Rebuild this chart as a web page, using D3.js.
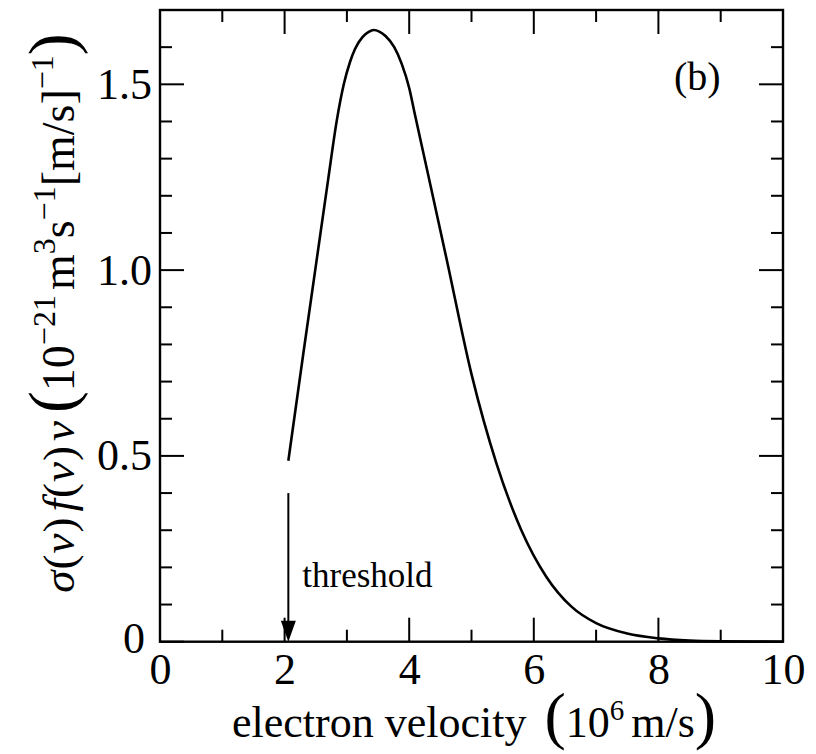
<!DOCTYPE html>
<html>
<head>
<meta charset="utf-8">
<script src="https://cdn.jsdelivr.net/npm/d3@7"></script>
<style>
  html, body { margin: 0; padding: 0; background: #fff; }
  svg { display: block; }
  text { font-family: "Liberation Serif", "Times New Roman", serif; fill: #000; }
</style>
</head>
<body>
<svg id="chart" width="816" height="754"></svg>
<script>
// electron velocity (10^6 m/s)
const velocity = [2.06, 2.3, 2.5, 2.7, 2.84, 2.95, 3.05, 3.13, 3.25, 3.35, 3.43, 3.52, 3.62, 3.76, 3.88, 4.0, 4.09, 4.3, 4.6, 5.0, 5.4, 5.8, 6.2, 6.6, 7.0, 7.5, 8.0, 8.5, 9.0, 10.0];
// sigma(v) f(v) v  (10^-21 m^3 s^-1 [m/s]^-1)
const rate = [0.487, 0.775, 1.01, 1.245, 1.405, 1.50, 1.56, 1.595, 1.627, 1.641, 1.646, 1.642, 1.63, 1.60, 1.555, 1.49, 1.42, 1.26, 1.03, 0.72, 0.48, 0.30, 0.175, 0.095, 0.05, 0.022, 0.009, 0.003, 0.001, 0.0];

const xMajorTicks = [0, 2, 4, 6, 8, 10];
const xMinorTicks = [1, 3, 5, 7, 9];
const yMajorTicks = [0, 0.5, 1.0, 1.5];
const yMinorTicks = [0.1, 0.2, 0.3, 0.4, 0.6, 0.7, 0.8, 0.9, 1.1, 1.2, 1.3, 1.4, 1.6];
const yTickLabels = ["0", "0.5", "1.0", "1.5"];

const thresholdVelocity = 2.06;
const thresholdArrowTop = 0.40;

const svg = d3.select("#chart");
const plotLeft = 160, plotRight = 783, plotTop = 10, plotBottom = 641.7;

const x = d3.scaleLinear().domain([0, 10]).range([plotLeft, plotRight]);
const y = d3.scaleLinear().domain([0, 1.7]).range([plotBottom, plotTop]);

const MAJOR = 24, MINOR = 12;
const tickFont = 44;

function styleAxis(g) {
  g.select(".domain").remove();
  g.selectAll(".tick line").remove();
  g.selectAll(".tick text").attr("font-size", tickFont).attr("fill", "#000")
    .attr("font-family", "Liberation Serif, serif");
}

// tick labels
svg.append("g").attr("transform", `translate(0,${plotBottom})`)
  .call(d3.axisBottom(x).tickValues(xMajorTicks).tickFormat(d3.format("d"))
    .tickSize(0).tickPadding(11))
  .call(styleAxis);

const yLeft = svg.append("g").attr("transform", `translate(${plotLeft},0)`)
  .call(d3.axisLeft(y).tickValues(yMajorTicks)
    .tickFormat((d, i) => yTickLabels[i])
    .tickSize(0).tickPadding(8))
  .call(styleAxis);
// the zero label sits just left of the corner
yLeft.selectAll(".tick text").filter(d => d === 0).attr("x", -15).attr("y", -3);

// inward tick marks on all four sides of the frame
const tickG = svg.append("g").attr("stroke", "#000").attr("stroke-width", 2);
const xTicks = xMajorTicks.map(v => [v, MAJOR]).concat(xMinorTicks.map(v => [v, MINOR]));
const yTicks = yMajorTicks.map(v => [v, MAJOR]).concat(yMinorTicks.map(v => [v, MINOR]));

tickG.selectAll("line.xb").data(xTicks).join("line").attr("class", "xb")
  .attr("x1", d => x(d[0])).attr("x2", d => x(d[0]))
  .attr("y1", plotBottom).attr("y2", d => plotBottom - d[1]);
tickG.selectAll("line.xt").data(xTicks).join("line").attr("class", "xt")
  .attr("x1", d => x(d[0])).attr("x2", d => x(d[0]))
  .attr("y1", plotTop).attr("y2", d => plotTop + d[1]);
tickG.selectAll("line.yl").data(yTicks).join("line").attr("class", "yl")
  .attr("y1", d => y(d[0])).attr("y2", d => y(d[0]))
  .attr("x1", plotLeft).attr("x2", d => plotLeft + d[1]);
tickG.selectAll("line.yr").data(yTicks).join("line").attr("class", "yr")
  .attr("y1", d => y(d[0])).attr("y2", d => y(d[0]))
  .attr("x1", plotRight).attr("x2", d => plotRight - d[1]);

// frame
svg.append("rect")
  .attr("x", plotLeft).attr("y", plotTop)
  .attr("width", plotRight - plotLeft).attr("height", plotBottom - plotTop)
  .attr("fill", "none").attr("stroke", "#000").attr("stroke-width", 2.4);

// rate curve
const points = velocity.map((v, i) => [v, rate[i]]);
svg.append("path")
  .datum(points)
  .attr("fill", "none")
  .attr("stroke", "#000")
  .attr("stroke-width", 2.6)
  .attr("stroke-linejoin", "round")
  .attr("d", d3.line().x(d => x(d[0])).y(d => y(d[1])).curve(d3.curveMonotoneX));

// threshold arrow
const ax = x(thresholdVelocity);
svg.append("line")
  .attr("x1", ax).attr("x2", ax)
  .attr("y1", y(thresholdArrowTop)).attr("y2", y(0) - 18)
  .attr("stroke", "#000").attr("stroke-width", 2);
svg.append("path")
  .attr("d", `M${ax - 7.5},${y(0) - 21} L${ax + 7.5},${y(0) - 21} L${ax},${y(0)} Z`)
  .attr("fill", "#000");

svg.append("text")
  .attr("x", ax + 14).attr("y", y(0.147))
  .attr("font-size", 35)
  .text("threshold");

// panel tag
svg.append("text")
  .attr("x", 674).attr("y", 90)
  .attr("font-size", 40)
  .text("(b)");

// x-axis title
const xt = svg.append("text")
  .attr("x", 232).attr("y", 737)
  .attr("font-size", 44);
xt.append("tspan").text("electron velocity");
xt.append("tspan").attr("font-size", 64).attr("dx", 18).text("(");
xt.append("tspan").text("10");
xt.append("tspan").attr("font-size", 29).attr("dy", -17).text("6");
xt.append("tspan").attr("dy", 17).attr("dx", 7).text("m/s");
xt.append("tspan").attr("font-size", 64).text(")");

// y-axis title
const yt = svg.append("text")
  .attr("transform", `translate(74,313) rotate(-90)`)
  .attr("text-anchor", "middle")
  .attr("font-size", 45);
const mathPart = [["σ", true], ["(", false], ["v", true], [")", false], ["f", true], ["(", false], ["v", true], [")", false], ["v", true]];
const mathGap = [0, 1, 1, 1, 6, 1, 1, 1, 5];
mathPart.forEach(([s, it], i) => {
  yt.append("tspan")
    .attr("font-style", it ? "italic" : "normal")
    .attr("dx", mathGap[i])
    .text(s);
});
yt.append("tspan").attr("font-size", 66).attr("dx", 8).text("(");
yt.append("tspan").attr("font-size", 46).text("10");
yt.append("tspan").attr("font-size", 32).attr("dy", -19).text("\u221221");
yt.append("tspan").attr("font-size", 46).attr("dy", 19).attr("dx", 5).text("m");
yt.append("tspan").attr("font-size", 32).attr("dy", -19).text("3");
yt.append("tspan").attr("font-size", 46).attr("dy", 19).text("s");
yt.append("tspan").attr("font-size", 32).attr("dy", -19).text("\u22121");
yt.append("tspan").attr("font-size", 46).attr("dy", 19).text("[m/s]");
yt.append("tspan").attr("font-size", 32).attr("dy", -21).text("\u22121");
yt.append("tspan").attr("font-size", 66).attr("dy", 21).text(")");
</script>
</body>
</html>
